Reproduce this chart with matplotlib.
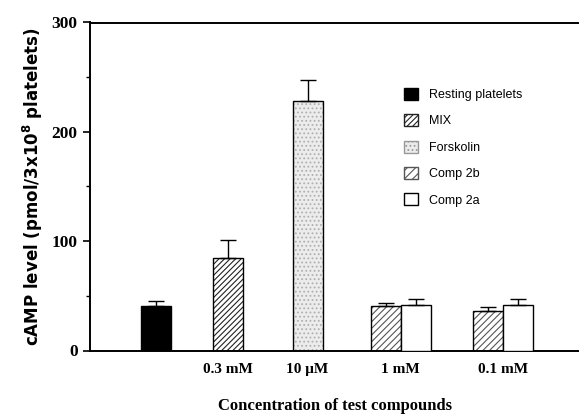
import matplotlib
matplotlib.use("Agg")
import matplotlib.pyplot as plt
from matplotlib.patches import Patch

# Data (cAMP, pmol / 3x10^8 platelets)
group_labels = ["", "0.3 mM", "10 μM", "1 mM", "0.1 mM"]
resting_mean = [41]
resting_err = [4]
mix_mean = [85]
mix_err = [16]
forskolin_mean = [228]
forskolin_err = [19]
comp2b_mean = [41, 36]
comp2b_err = [2.5, 3.5]
comp2a_mean = [41.5, 41.5]
comp2a_err = [5.5, 5.5]

# Layout (roughly pixel units along the x axis)
group_x = [66, 138, 217.5, 310.7, 413.3]
bar_w = 30

plt.rcParams['mathtext.fontset'] = 'custom'
plt.rcParams['mathtext.rm'] = 'DejaVu Sans:bold'
plt.rcParams['mathtext.sf'] = 'DejaVu Sans:bold'
plt.rcParams['hatch.linewidth'] = 0.8

fig = plt.figure(figsize=(5.79, 4.17), dpi=100)
ax = fig.add_axes([90 / 579, 66.5 / 417, 489 / 579, 328 / 417])


def draw_bars(xs, means, errs, face, hatch=None, hatch_col=None):
    if hatch:
        ax.bar(xs, means, bar_w, color=face, hatch=hatch, edgecolor=hatch_col, linewidth=0, zorder=2)
        ax.bar(xs, means, bar_w, fill=False, edgecolor='black', linewidth=1.0, zorder=3)
    else:
        ax.bar(xs, means, bar_w, color=face, edgecolor='black', linewidth=1.0, zorder=3)
    ax.errorbar(xs, means, yerr=[[0] * len(errs), errs], fmt='none', ecolor='black',
                elinewidth=1.0, capsize=6, capthick=1.0, zorder=4)


draw_bars([group_x[0]], resting_mean, resting_err, 'black')
draw_bars([group_x[1]], mix_mean, mix_err, 'white', '//////', '#222222')
draw_bars([group_x[2]], forskolin_mean, forskolin_err, '#ececec', '....', '#b0b0b0')
pair_x = group_x[3:]
draw_bars([x - bar_w / 2 for x in pair_x], comp2b_mean, comp2b_err, 'white', '/////', '#555555')
draw_bars([x + bar_w / 2 for x in pair_x], comp2a_mean, comp2a_err, 'white')

ax.set_xlim(0, 489)
ax.set_ylim(0, 300)
ax.set_yticks([0, 100, 200, 300])
ax.set_yticks([50, 150, 250], minor=True)
ax.set_xticks(group_x)
ax.set_xticklabels(group_labels, family='Liberation Serif', fontweight='bold', fontsize=11)
ax.tick_params(axis='x', length=0, pad=9)
ax.tick_params(axis='y', which='major', length=5, width=1.2, direction='out', pad=4)
ax.tick_params(axis='y', which='minor', length=3, width=1.0, direction='out')
for lab in ax.get_yticklabels():
    lab.set_family('Liberation Serif')
    lab.set_fontweight('bold')
    lab.set_fontsize(12.5)

ax.spines['right'].set_visible(False)
ax.spines['left'].set_linewidth(1.4)
ax.spines['bottom'].set_linewidth(1.4)
ax.spines['top'].set_linewidth(1.4)

ax.set_ylabel(r"cAMP level (pmol/3x10$^{\mathsf{8}}$ platelets)", family='DejaVu Sans',
              fontweight='bold', fontsize=12, labelpad=5)
ax.set_xlabel("Concentration of test compounds", family='Liberation Serif',
              fontweight='bold', fontsize=12, labelpad=16)

handles = [
    Patch(facecolor='black', edgecolor='black'),
    Patch(facecolor='white', edgecolor='#222222', hatch='//////'),
    Patch(facecolor='#ececec', edgecolor='#999999', hatch='....'),
    Patch(facecolor='white', edgecolor='#555555', hatch='////'),
    Patch(facecolor='white', edgecolor='black'),
]
ax.legend(handles, ["Resting platelets", "MIX", "Forskolin", "Comp 2b", "Comp 2a"],
          loc='upper left', bbox_to_anchor=(0.63, 0.82), frameon=False,
          prop={'family': 'Liberation Sans', 'size': 9},
          handlelength=1.1, handleheight=1.1, handletextpad=0.9,
          labelspacing=1.05, borderpad=0)

fig.savefig("out.png", dpi=100)
